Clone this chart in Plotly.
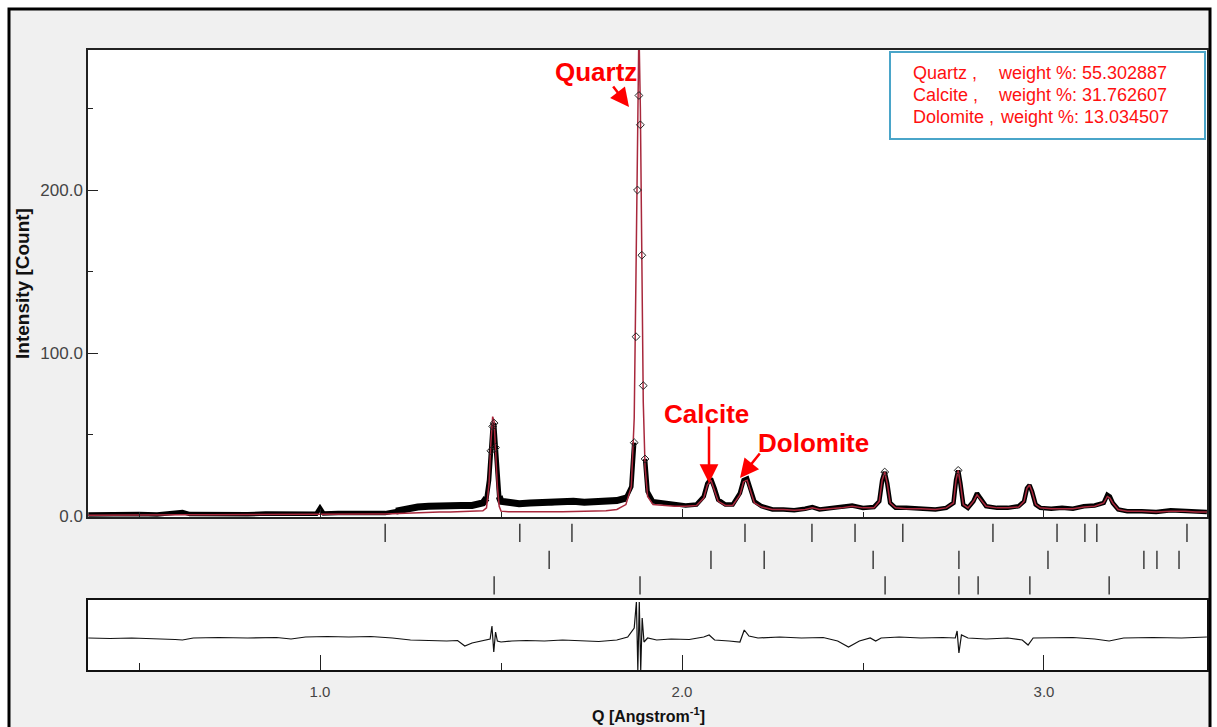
import plotly.graph_objects as go

# ---------------- data ----------------
q = [
    0.36, 0.40, 0.45, 0.50, 0.55, 0.60, 0.62, 0.64, 0.70, 0.75,
    0.80, 0.85, 0.90, 0.95, 0.99, 1.00, 1.01, 1.05, 1.10, 1.15,
    1.18, 1.21, 1.24, 1.27, 1.30, 1.33, 1.36, 1.39, 1.42, 1.45,
    1.46, 1.467, 1.472, 1.477, 1.481, 1.485, 1.49, 1.495, 1.50, 1.52,
    1.55, 1.58, 1.61, 1.64, 1.67, 1.70, 1.73, 1.76, 1.79, 1.82,
    1.845, 1.86, 1.868, 1.873, 1.877, 1.881, 1.885, 1.889, 1.893, 1.898,
    1.905, 1.92, 1.95, 1.98, 2.01, 2.04, 2.06, 2.07, 2.08, 2.09,
    2.10, 2.12, 2.14, 2.16, 2.17, 2.18, 2.19, 2.20, 2.22, 2.25,
    2.28, 2.31, 2.34, 2.36, 2.38, 2.41, 2.44, 2.47, 2.50, 2.53,
    2.545, 2.553, 2.56, 2.567, 2.575, 2.59, 2.62, 2.66, 2.70, 2.73,
    2.75, 2.757, 2.763, 2.769, 2.777, 2.79, 2.805, 2.815, 2.825, 2.84,
    2.87, 2.90, 2.93, 2.945, 2.953, 2.96, 2.967, 2.977, 2.99, 3.02,
    3.05, 3.08, 3.11, 3.14, 3.165, 3.175, 3.182, 3.19, 3.205, 3.23,
    3.27, 3.31, 3.35, 3.39, 3.42, 3.45]

obs = [
    1.0, 1.2, 0.8, 1.3, 1.0, 1.8, 2.5, 1.2, 1.0, 1.4,
    1.1, 1.5, 1.3, 1.6, 1.4, 5.0, 1.5, 1.8, 1.6, 1.8,
    1.8, 3.0, 4.5, 5.5, 6.0, 6.5, 6.0, 6.5, 6.5, 8.0,
    11, 22, 40, 55, 57, 42, 24, 12, 9, 8.5,
    7.5, 8.0, 8.5, 8.0, 8.5, 9.0, 8.5, 9.0, 9.5, 9.5,
    11, 18, 45, 110, 200, 258, 240, 160, 80, 35,
    15, 9, 8, 7, 6.5, 7, 12, 20, 23, 17,
    10, 7, 7, 14, 22, 23, 16, 9, 6, 4,
    4, 3.5, 4.5, 5.5, 4, 5, 5.5, 6.5, 5, 5.5,
    9, 22, 27, 20, 8, 5, 5, 4.5, 4, 5,
    8, 22, 28, 20, 7, 5, 9, 14, 11, 6,
    5, 5, 6, 9, 17, 19, 15, 7, 5, 4.5,
    5, 4.5, 6, 6.5, 8, 13, 12, 8, 4, 3,
    3, 2.5, 3.5, 3, 2.5, 2.5]

calc = [
    0.5, 0.6, 0.6, 0.6, 0.7, 0.7, 0.8, 0.8, 0.8, 0.8,
    0.9, 0.9, 0.9, 1.0, 1.0, 1.0, 1.0, 1.1, 1.1, 1.2,
    1.3, 1.6, 2.0, 2.3, 2.5, 2.5, 2.5, 2.6, 2.7, 3.2,
    5, 20, 45, 61, 58, 38, 18, 6, 3, 2.6,
    2.5, 2.5, 2.5, 2.6, 2.6, 2.7, 2.8, 3.0, 3.2, 4.0,
    7, 18, 60, 150, 270, 300, 250, 150, 70, 30,
    12, 7, 6.5, 6, 6, 6.5, 11, 19, 22, 16,
    9, 6.5, 6.5, 13, 21, 22, 15, 8, 5.5, 4,
    4, 3.5, 4, 5, 4, 4.5, 5, 6, 5, 5,
    9, 22, 27, 20, 8, 5, 4.5, 4.5, 4, 5,
    8, 22, 28, 20, 7, 5, 9, 13, 10, 6,
    5, 5, 5.5, 9, 17, 19, 15, 7, 5, 4.5,
    4.5, 4.5, 5.5, 6, 8, 12, 11, 8, 4, 3,
    3, 2.5, 3, 3, 2.5, 2.5]

res_q = [
    0.36, 0.42, 0.48, 0.55, 0.60, 0.62, 0.65, 0.72, 0.80, 0.88,
    0.92, 0.96, 1.02, 1.08, 1.14, 1.20, 1.25, 1.30, 1.35, 1.38,
    1.40, 1.42, 1.45, 1.47, 1.475, 1.48, 1.485, 1.49, 1.50, 1.53,
    1.57, 1.62, 1.67, 1.72, 1.77, 1.82, 1.85, 1.868, 1.874, 1.878,
    1.882, 1.886, 1.89, 1.895, 1.905, 1.93, 1.97, 2.02, 2.06, 2.075,
    2.09, 2.13, 2.16, 2.172, 2.185, 2.21, 2.27, 2.33, 2.39, 2.43,
    2.46, 2.49, 2.52, 2.535, 2.55, 2.60, 2.66, 2.72, 2.755, 2.76,
    2.765, 2.772, 2.79, 2.84, 2.90, 2.94, 2.956, 2.97, 3.02, 3.08,
    3.14, 3.18, 3.22, 3.30, 3.38, 3.45]

res_v = [
    0, -0.5, 0, -0.5, -1.5, -2, 0, 0.5, 0, 0.5,
    -1, 1, 1.5, 1, 1.5, 0, -2, -2.5, -3, -2.5,
    -8, -5, -3, -1, 12, -14, 6, -3, -4, -3,
    -2.5, -3, -2, -3, -3.5, -2, 1, 10, 36, -32,
    36, -32, 20, -4, 0, -2, -1, -1.5, 1, 3,
    -2, -3, -4, 8, 2, 0, 1, 0, 0.5, -3,
    -9, -3, 0, -3, 0, 1, 0, 0.5, 0, 7,
    -15, 3, 0, -1, 0, -2, -7, 0, 0, 0.5,
    -1, -3, 0, 0.5, 0, 1]

# reflection positions (tick rows, top to bottom)
row1_q = [1.18, 1.552, 1.696, 2.174, 2.359, 2.478, 2.61, 2.859, 3.036, 3.113, 3.146, 3.395]
row2_q = [1.633, 2.080, 2.227, 2.528, 2.765, 3.011, 3.276, 3.312, 3.373]
row3_q = [1.481, 1.884, 2.561, 2.765, 2.818, 2.961, 3.18]
row_levels = [2.5, 1.45, 0.45]

phases = ["Quartz", "Calcite", "Dolomite"]
weights = ["55.302887", "31.762607", "13.034507"]

# ---------------- layout helpers ----------------
W, H = 1217, 727


def px(x):
    return x / W


def py(y):
    return 1 - y / H


SANS = "Liberation Sans, Arial, Helvetica, sans-serif"
XR = [0.3591, 3.4503]
XDOM = [px(88), px(1207)]

# observed: solid thick band, open diamonds on the tall quartz peak
obs_line = [v if v < 60 else None for v in obs]
obs_noisy = [v if (1.2 <= qq <= 1.85 and v <= 12) else None for qq, v in zip(q, obs)]
obs_mark_q = [qq for qq, v in zip(q, obs) if v >= 25]
obs_mark_v = [v for v in obs if v >= 25]

fig = go.Figure()
fig.add_trace(go.Scatter(
    x=q, y=obs_noisy, mode="lines", xaxis="x", yaxis="y",
    line=dict(color="black", width=7), hoverinfo="skip"))
fig.add_trace(go.Scatter(
    x=q, y=obs_line, mode="lines", xaxis="x", yaxis="y",
    line=dict(color="black", width=4.5), hoverinfo="skip"))
fig.add_trace(go.Scatter(
    x=q, y=calc, mode="lines", xaxis="x", yaxis="y",
    line=dict(color="#a8283c", width=1.5), hoverinfo="skip"))
fig.add_trace(go.Scatter(
    x=obs_mark_q, y=obs_mark_v, mode="markers", xaxis="x", yaxis="y",
    marker=dict(symbol="diamond-open", size=6, color="#222", line=dict(width=1, color="#222")),
    hoverinfo="skip"))
fig.add_trace(go.Scatter(
    x=res_q, y=res_v, mode="lines", xaxis="x2", yaxis="y2",
    line=dict(color="#111111", width=1.2), hoverinfo="skip"))
for rq, lvl in zip([row1_q, row2_q, row3_q], row_levels):
    fig.add_trace(go.Scatter(
        x=rq, y=[lvl] * len(rq), mode="markers", xaxis="x3", yaxis="y3",
        marker=dict(symbol="line-ns", size=13, color="#222", line=dict(width=1.3, color="#222")),
        hoverinfo="skip"))

fig.update_layout(
    width=W, height=H,
    margin=dict(l=0, r=0, t=0, b=0, pad=0),
    paper_bgcolor="white",
    plot_bgcolor="rgba(0,0,0,0)",
    showlegend=False,
    xaxis=dict(domain=XDOM, range=XR, anchor="y", automargin=False, showline=True, mirror=True,
               linecolor="#222", linewidth=1.5, ticks="inside", ticklen=8, tickcolor="#222",
               dtick=1, tick0=0, showticklabels=False, showgrid=False, zeroline=False,
               minor=dict(ticks="inside", ticklen=5, dtick=0.5, tick0=0, tickcolor="#222")),
    yaxis=dict(domain=[py(517), py(50)], range=[-0.6, 285.9], anchor="x", automargin=False,
               showline=True, mirror=True,
               linecolor="#222", linewidth=1.5, ticks="inside", ticklen=10, tickcolor="#222",
               dtick=100, tick0=0, tickformat=".1f", showgrid=False, zeroline=False,
               tickfont=dict(family=SANS, size=17, color="#444"),
               minor=dict(ticks="inside", ticklen=5, dtick=50, tick0=0, tickcolor="#222")),
    xaxis2=dict(domain=XDOM, range=XR, anchor="y2", automargin=False, showline=True, mirror=True,
                linecolor="#111", linewidth=2, ticks="inside", ticklen=15, tickcolor="#222",
                dtick=1, tick0=0, tickformat=".1f", showgrid=False, zeroline=False,
                ticklabelstandoff=7,
                tickfont=dict(family=SANS, size=15, color="#444"),
                minor=dict(ticks="inside", ticklen=7, dtick=0.5, tick0=0, tickcolor="#222")),
    yaxis2=dict(domain=[py(670), py(600)], range=[-32, 38], anchor="x2", automargin=False,
                showline=True, mirror=True,
                linecolor="#111", linewidth=2, ticks="", showticklabels=False,
                showgrid=False, zeroline=False),
    xaxis3=dict(domain=XDOM, range=XR, anchor="y3", visible=False, automargin=False),
    yaxis3=dict(domain=[py(597), py(520)], range=[0, 3], anchor="x3", visible=False,
                automargin=False),
)

shapes = [
    dict(type="rect", xref="paper", yref="paper", x0=px(9), x1=px(1210), y0=py(760), y1=py(9),
         line=dict(color="black", width=3), fillcolor="#f0f0f0", layer="below"),
    dict(type="rect", xref="x domain", yref="y domain", x0=0, x1=1, y0=0, y1=1,
         line=dict(width=0), fillcolor="white", layer="below"),
    dict(type="rect", xref="x2 domain", yref="y2 domain", x0=0, x1=1, y0=0, y1=1,
         line=dict(width=0), fillcolor="white", layer="below"),
    dict(type="rect", xref="paper", yref="paper", x0=px(890), x1=px(1205), y0=py(139), y1=py(52),
         line=dict(color="#4aa5c9", width=2), fillcolor="white", layer="above"),
]
fig.update_layout(shapes=shapes)

ann = []
leg_font = dict(family=SANS, size=18, color="#ff1010")
for i, (ph, wt) in enumerate(zip(phases, weights)):
    yy = py(73 + 22 * i)
    ann.append(dict(xref="paper", yref="paper", x=px(911), y=yy, xanchor="left", yanchor="middle",
                    text=ph + " ,", showarrow=False, font=leg_font))
    ann.append(dict(xref="paper", yref="paper", x=px(996 if i < 2 else 998), y=yy, xanchor="left",
                    yanchor="middle", text="weight %: " + wt, showarrow=False, font=leg_font))

lab_font = dict(family=SANS, size=26, color="#ff0000")
for txt, cx, cy in [("Quartz", 596, 72), ("Calcite", 706, 414), ("Dolomite", 813, 443)]:
    ann.append(dict(xref="paper", yref="paper", x=px(cx), y=py(cy), xanchor="center",
                    yanchor="middle", text="<b>" + txt + "</b>", showarrow=False, font=lab_font))

# arrows (head position, tail offset in pixels)
for hx, hy, ax, ay in [(629, 107, -17, -22), (709, 483, 0, -58), (740, 478, 21, -26)]:
    ann.append(dict(xref="paper", yref="paper", x=px(hx), y=py(hy), ax=ax, ay=ay, text="",
                    showarrow=True, arrowhead=2, arrowsize=1.5, arrowwidth=2.5, arrowcolor="#ff0000",
                    standoff=0, startstandoff=0))

ann.append(dict(xref="paper", yref="paper", x=px(22), y=py(284), xanchor="center", yanchor="middle",
                text="<b>Intensity [Count]</b>", textangle=-90, showarrow=False,
                font=dict(family=SANS, size=19, color="#111")))
ann.append(dict(xref="paper", yref="paper", x=px(648), y=py(715), xanchor="center", yanchor="middle",
                text="<b>Q [Angstrom<sup>-1</sup>]</b>", showarrow=False,
                font=dict(family=SANS, size=16, color="#111")))
fig.update_layout(annotations=ann)

fig.write_html("out.html")
